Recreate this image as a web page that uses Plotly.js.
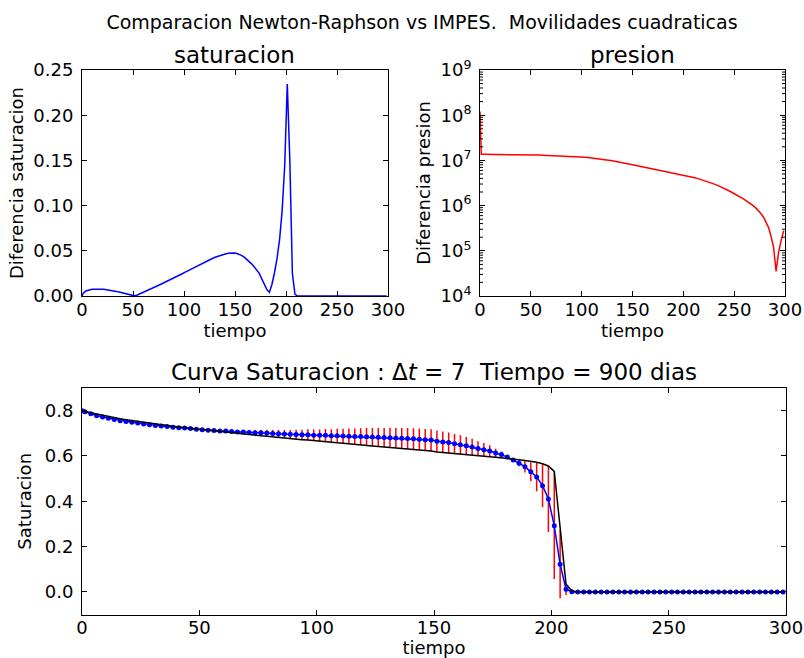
<!DOCTYPE html>
<html>
<head>
<meta charset="utf-8">
<script src="https://cdn.plot.ly/plotly-3.0.1.min.js"></script>
<style>html,body{margin:0;padding:0;background:#fff}#chart{width:804px;height:658px}</style>
</head>
<body>
<div id="chart"></div>
<script>
// Cell positions (tiempo axis), 0 plus cell centres
const tiempo = [0,1.25,3.75,6.25,8.75,11.25,13.75,16.25,18.75,21.25,23.75,26.25,28.75,31.25,33.75,36.25,38.75,41.25,43.75,46.25,48.75,51.25,53.75,56.25,58.75,61.25,63.75,66.25,68.75,71.25,73.75,76.25,78.75,81.25,83.75,86.25,88.75,91.25,93.75,96.25,98.75,101.25,103.75,106.25,108.75,111.25,113.75,116.25,118.75,121.25,123.75,126.25,128.75,131.25,133.75,136.25,138.75,141.25,143.75,146.25,148.75,151.25,153.75,156.25,158.75,161.25,163.75,166.25,168.75,171.25,173.75,176.25,178.75,181.25,183.75,186.25,188.75,191.25,193.75,196.25,198.75,201.25,203.75,206.25,208.75,211.25,213.75,216.25,218.75,221.25,223.75,226.25,228.75,231.25,233.75,236.25,238.75,241.25,243.75,246.25,248.75,251.25,253.75,256.25,258.75,261.25,263.75,266.25,268.75,271.25,273.75,276.25,278.75,281.25,283.75,286.25,288.75,291.25,293.75,296.25,298.75];

// Diferencia saturacion (also used as error bar size)
const difSat = [0,0.003,0.0055,0.0066,0.0072,0.0075,0.0077,0.0077,0.0076,0.0074,0.0071,0.0067,0.0062,0.0057,0.0051,0.0044,0.0037,0.0030,0.0022,0.0014,0.0007,0.0002,0.0008,0.002,0.0033,0.0046,0.006,0.0073,0.0086,0.0099,0.0112,0.0125,0.0138,0.0151,0.0164,0.0178,0.0192,0.0206,0.022,0.0235,0.0249,0.0264,0.0279,0.0294,0.0309,0.0324,0.0339,0.0354,0.0368,0.0382,0.0395,0.0408,0.042,0.0432,0.0443,0.0453,0.0461,0.0468,0.0473,0.0476,0.0476,0.0472,0.0463,0.045,0.0432,0.041,0.0385,0.0356,0.0324,0.0289,0.0251,0.019,0.0135,0.007,0.004,0.013,0.026,0.042,0.063,0.095,0.145,0.2345,0.15,0.025,0.002,0,0,0,0,0,0,0,0,0,0,0,0,0,0,0,0,0,0,0,0,0,0,0,0,0,0,0,0,0,0,0,0,0,0,0,0];

// Diferencia presion
const difPres = [1.2e8,1.36e7,1.36e7,1.36e7,1.36e7,1.36e7,1.36e7,1.36e7,1.36e7,1.36e7,1.36e7,1.36e7,1.36e7,1.355e7,1.35e7,1.35e7,1.345e7,1.34e7,1.34e7,1.335e7,1.33e7,1.325e7,1.32e7,1.315e7,1.31e7,1.305e7,1.30e7,1.295e7,1.29e7,1.28e7,1.275e7,1.27e7,1.26e7,1.26e7,1.25e7,1.245e7,1.24e7,1.23e7,1.22e7,1.21e7,1.20e7,1.19e7,1.175e7,1.16e7,1.145e7,1.13e7,1.11e7,1.09e7,1.07e7,1.05e7,1.03e7,1.01e7,9.9e6,9.7e6,9.5e6,9.3e6,9.1e6,8.85e6,8.6e6,8.35e6,8.1e6,7.9e6,7.7e6,7.5e6,7.3e6,7.1e6,6.9e6,6.7e6,6.5e6,6.35e6,6.2e6,6.05e6,5.9e6,5.75e6,5.6e6,5.45e6,5.3e6,5.15e6,5.05e6,4.95e6,4.85e6,4.75e6,4.6e6,4.45e6,4.3e6,4.15e6,4.0e6,3.85e6,3.7e6,3.55e6,3.4e6,3.25e6,3.1e6,2.95e6,2.8e6,2.65e6,2.5e6,2.35e6,2.2e6,2.05e6,1.9e6,1.78e6,1.65e6,1.53e6,1.42e6,1.3e6,1.2e6,1.1e6,1.0e6,8.9e5,7.8e5,6.7e5,5.6e5,4.4e5,3.3e5,2.1e5,1.2e5,3.5e4,9.5e4,1.7e5,2.8e5];

// Saturacion: Newton-Raphson (blue, with error bars) and IMPES (black)
const satNR = [0.800,0.795,0.786,0.778,0.772,0.767,0.761,0.756,0.752,0.749,0.745,0.741,0.738,0.735,0.732,0.730,0.727,0.725,0.723,0.721,0.718,0.716,0.714,0.712,0.710,0.710,0.708,0.706,0.706,0.704,0.703,0.702,0.701,0.699,0.698,0.697,0.696,0.695,0.694,0.694,0.692,0.691,0.691,0.689,0.689,0.688,0.687,0.686,0.686,0.685,0.684,0.683,0.682,0.681,0.679,0.678,0.677,0.676,0.674,0.672,0.670,0.665,0.662,0.659,0.654,0.650,0.645,0.640,0.633,0.628,0.622,0.613,0.606,0.596,0.582,0.568,0.553,0.530,0.507,0.469,0.410,0.292,0.122,0.012,0.001,0,0,0,0,0,0,0,0,0,0,0,0,0,0,0,0,0,0,0,0,0,0,0,0,0,0,0,0,0,0,0,0,0,0,0,0];
const satIMPES = [0.800,0.798,0.791,0.785,0.779,0.774,0.769,0.764,0.760,0.756,0.752,0.748,0.744,0.741,0.737,0.734,0.731,0.728,0.725,0.722,0.719,0.716,0.713,0.710,0.707,0.705,0.702,0.699,0.697,0.694,0.692,0.689,0.687,0.684,0.682,0.679,0.677,0.674,0.672,0.670,0.667,0.665,0.663,0.660,0.658,0.656,0.653,0.651,0.649,0.647,0.644,0.642,0.640,0.638,0.635,0.633,0.631,0.629,0.627,0.624,0.622,0.618,0.616,0.614,0.611,0.609,0.606,0.604,0.601,0.599,0.597,0.594,0.592,0.589,0.586,0.583,0.580,0.577,0.572,0.566,0.556,0.532,0.280,0.035,0.004,0,0,0,0,0,0,0,0,0,0,0,0,0,0,0,0,0,0,0,0,0,0,0,0,0,0,0,0,0,0,0,0,0,0,0,0];

// Tick labels
const xTicks = [0,50,100,150,200,250,300];
const ySatTicks = [0,0.05,0.10,0.15,0.20,0.25];
const ySatTickText = ['0.00','0.05','0.10','0.15','0.20','0.25'];
const yCurveTicks = [0,0.2,0.4,0.6,0.8];
const yCurveTickText = ['0.0','0.2','0.4','0.6','0.8'];
const yPresTicks = [1e4,1e5,1e6,1e7,1e8,1e9];
const yPresTickText = ['10<sup>4</sup>','10<sup>5</sup>','10<sup>6</sup>','10<sup>7</sup>','10<sup>8</sup>','10<sup>9</sup>'];
const yPresMinorDigits = [2,3,4,5,6,7,8,9];

const FONT = 'DejaVu Sans, sans-serif';
const W = 804, H = 658;
const px = v => v / W;
const py = v => 1 - v / H;

// minor tick marks on the log axis (inside, both sides), as axis decorations
const minorShapes = [];
const minorLenFrac = 3 / 305;
for (let e = 4; e < 9; e++) {
  for (const m of yPresMinorDigits) {
    const v = m * Math.pow(10, e);
    minorShapes.push({type: 'line', xref: 'x2 domain', yref: 'y2', x0: 0, x1: minorLenFrac, y0: v, y1: v,
                      line: {color: 'black', width: 1}});
    minorShapes.push({type: 'line', xref: 'x2 domain', yref: 'y2', x0: 1 - minorLenFrac, x1: 1, y0: v, y1: v,
                      line: {color: 'black', width: 1}});
  }
}

function axisBase(extra) {
  return Object.assign({
    showline: true, linecolor: 'black', linewidth: 1, mirror: 'allticks',
    ticks: 'inside', ticklen: 5, tickwidth: 1, tickcolor: 'black',
    showgrid: false, zeroline: false, automargin: false,
    tickfont: {family: FONT, size: 18, color: 'black'}
  }, extra);
}

const traces = [
  {x: tiempo, y: difSat, type: 'scatter', mode: 'lines', xaxis: 'x', yaxis: 'y',
   line: {color: '#0000ff', width: 1.5}, hoverinfo: 'skip'},
  {x: tiempo, y: difPres, type: 'scatter', mode: 'lines', xaxis: 'x2', yaxis: 'y2',
   line: {color: '#ff0000', width: 1.5}, hoverinfo: 'skip'},
  {x: tiempo, y: satNR, type: 'scatter', mode: 'lines+markers', xaxis: 'x3', yaxis: 'y3',
   line: {color: '#0000ff', width: 1.5}, marker: {color: '#0000ff', size: 5},
   error_y: {type: 'data', array: difSat, symmetric: true, color: '#ff0000', thickness: 1.5, width: 0},
   hoverinfo: 'skip'},
  {x: tiempo, y: satIMPES, type: 'scatter', mode: 'lines', xaxis: 'x3', yaxis: 'y3',
   line: {color: '#000000', width: 1.5}, hoverinfo: 'skip'}
];

const titleFont = {family: FONT, size: 18, color: 'black'};

const layout = {
  width: W, height: H,
  margin: {l: 0, r: 0, t: 0, b: 0},
  paper_bgcolor: 'white', plot_bgcolor: 'white',
  showlegend: false,
  font: {family: FONT, color: 'black'},
  title: {text: 'Comparacion Newton-Raphson vs IMPES.  Movilidades cuadraticas',
          x: px(422), y: py(22), xanchor: 'center', yanchor: 'middle', xref: 'paper', yref: 'paper',
          font: {family: FONT, size: 19, color: 'black'}},
  xaxis: axisBase({domain: [px(82), px(388)], range: [0, 300], tickvals: xTicks, anchor: 'y',
          ticklabelstandoff: -3,
          title: {text: 'tiempo', font: titleFont, standoff: 0}}),
  yaxis: axisBase({domain: [py(296), py(70)], range: [0, 0.25], tickvals: ySatTicks, ticktext: ySatTickText, anchor: 'x',
          ticklabelstandoff: 4,
          title: {text: 'Diferencia saturacion', font: titleFont, standoff: 5}}),
  xaxis2: axisBase({domain: [px(480), px(785)], range: [0, 300], tickvals: xTicks, anchor: 'y2',
          ticklabelstandoff: -3,
          title: {text: 'tiempo', font: titleFont, standoff: 0}}),
  yaxis2: axisBase({domain: [py(296), py(70)], type: 'log', range: [4, 9], tickvals: yPresTicks, ticktext: yPresTickText, anchor: 'x2',
          ticklabelstandoff: 4,
          title: {text: 'Diferencia presion', font: titleFont, standoff: 5}}),
  xaxis3: axisBase({domain: [px(82), px(786)], range: [0, 300], tickvals: xTicks, anchor: 'y3',
          ticklabelstandoff: -3,
          title: {text: 'tiempo', font: titleFont, standoff: 0}}),
  yaxis3: axisBase({domain: [py(614.6), py(388)], range: [-0.1, 0.9], tickvals: yCurveTicks, ticktext: yCurveTickText, anchor: 'x3',
          ticklabelstandoff: 4,
          title: {text: 'Saturacion', font: titleFont, standoff: 8}}),
  shapes: minorShapes,
  annotations: [
    {text: 'saturacion', x: px(235), y: py(55), xref: 'paper', yref: 'paper', showarrow: false,
     xanchor: 'center', yanchor: 'middle', font: {family: FONT, size: 23, color: 'black'}},
    {text: 'presion', x: px(632), y: py(55), xref: 'paper', yref: 'paper', showarrow: false,
     xanchor: 'center', yanchor: 'middle', font: {family: FONT, size: 23, color: 'black'}},
    {text: 'Curva Saturacion : Δ<i>t</i> = 7  Tiempo = 900 dias', x: px(434), y: py(372), xref: 'paper', yref: 'paper', showarrow: false,
     xanchor: 'center', yanchor: 'middle', font: {family: FONT, size: 23, color: 'black'}}
  ]
};

Plotly.newPlot('chart', traces, layout, {staticPlot: true, displayModeBar: false});
</script>
</body>
</html>
